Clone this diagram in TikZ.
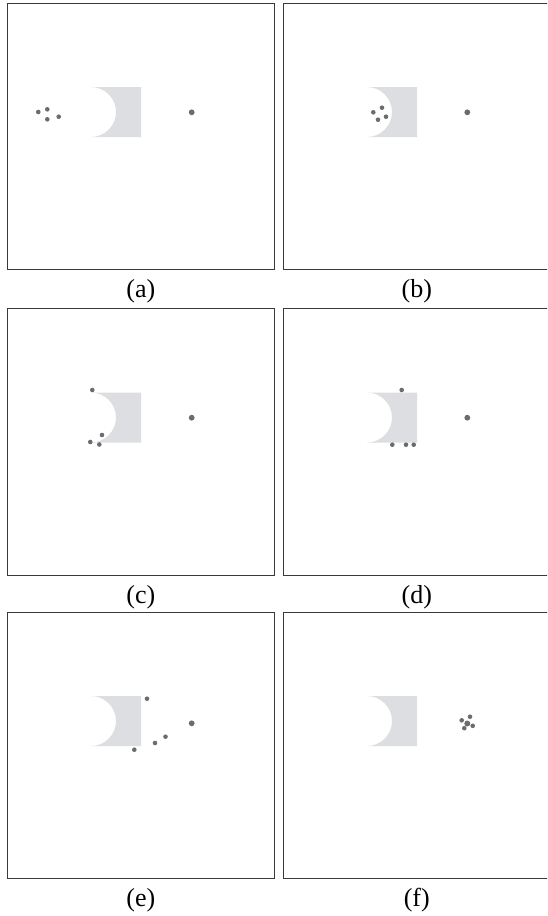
\documentclass[tikz,border=0pt]{standalone}
\usepackage{fontspec}
\setmainfont{Liberation Serif}
\definecolor{shapegray}{RGB}{221,222,225}
\definecolor{dotgray}{RGB}{108,108,110}
\definecolor{framegray}{RGB}{58,58,58}
\newcommand\mypanel[4]{%
  \begin{scope}[shift={(#1,#2)}]
    \draw[frame] (7.3,3.3) rectangle (274.3,269.8);
    \fill[shapegray] (91,87) -- (141,87) -- (141,137) -- (91,137)
      arc[start angle=90,end angle=-90,radius=25] -- cycle;
    \node[lab] (#3) at (140.8,291.5) {#4};
  \end{scope}}
\begin{document}
\begin{tikzpicture}[x=1pt,y=-1pt,
  frame/.style={draw=framegray,line width=1.2pt},
  lab/.style={font=\fontsize{26}{31}\selectfont,inner sep=0pt},
  sd/.style={fill=dotgray},
  bd/.style={fill=dotgray}]
\useasboundingbox (0,0) rectangle (547,916);
\clip (0,0) rectangle (547,916);
\fill[white] (0,0) rectangle (547,916);
\mypanel{0}{0}{la}{(a)}
\mypanel{276}{0}{lb}{(b)}
\mypanel{0}{305.5}{lc}{(c)}
\mypanel{276}{305.5}{ld}{(d)}
\mypanel{0}{609}{le}{(e)}
\mypanel{276}{609}{lf}{(f)}
% (a)
\foreach \p in {(38.3,112),(47.3,109.3),(47.3,119.3),(58.7,116.7)} \fill[sd] \p circle[radius=2.3];
\fill[bd] (191.7,112.3) circle[radius=2.9];
% (b)
\foreach \p in {(373.3,112.3),(382,107.7),(378,119.7),(386,116.7)} \fill[sd] \p circle[radius=2.3];
\fill[bd] (467.3,112.3) circle[radius=2.9];
% (c)
\foreach \p in {(92.3,390),(102,435),(90.3,442),(99.3,444.5)} \fill[sd] \p circle[radius=2.3];
\fill[bd] (191.7,417.7) circle[radius=2.9];
% (d)
\foreach \p in {(401.7,390),(392.3,444.7),(406,444.7),(413.7,444.7)} \fill[sd] \p circle[radius=2.3];
\fill[bd] (467.3,417.7) circle[radius=2.9];
% (e)
\foreach \p in {(147,698.7),(165.5,736.7),(155,743),(134.3,749.7)} \fill[sd] \p circle[radius=2.3];
\fill[bd] (191.7,723.3) circle[radius=2.9];
% (f)
\foreach \p in {(461.7,720.3),(470,716.7),(472.7,725.8),(464.3,728.2)} \fill[sd] \p circle[radius=2.3];
\fill[bd] (467.3,723.5) circle[radius=3.0];
\end{tikzpicture}
\end{document}
